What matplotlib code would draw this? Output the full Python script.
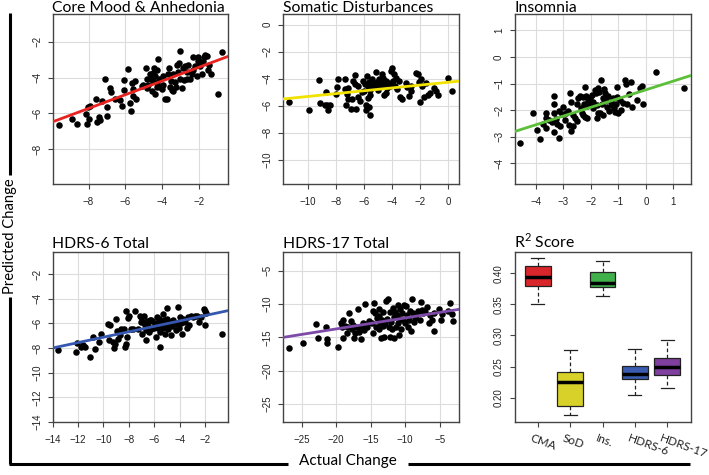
import numpy as np
import matplotlib
matplotlib.use('Agg')
import matplotlib.pyplot as plt
from matplotlib.lines import Line2D
from matplotlib.transforms import offset_copy, ScaledTranslation

plt.rcParams['font.family'] = ['Liberation Sans', 'DejaVu Sans']
plt.rcParams['axes.unicode_minus'] = True

# ---------------- data ----------------
cma_x = [-9.6, -8.9, -8.6, -8.13, -8.05, -7.9, -8.0, -8.1, -7.6, -7.45, -7.4, -7.55, -7.28, -7.1, -7.0, -7.0,
         -6.83, -6.77, -6.56, -6.29, -6.2, -6.1, -6.1, -5.84, -5.78, -5.71, -5.66, -5.57, -5.57, -5.48, -5.42,
         -5.12, -5.03, -4.89, -4.85, -4.76, -4.67, -4.63, -4.58, -4.52, -4.49, -4.43, -4.4, -4.4, -4.31, -4.27,
         -4.22, -4.16, -4.13, -4.04, -3.98, -3.95, -3.86, -3.77, -3.68, -3.62, -3.59, -3.55, -3.5, -3.41, -3.32,
         -3.26, -3.23, -3.14, -3.08, -3.05, -3.05, -2.95, -2.9, -2.83, -2.77, -2.68, -2.59, -2.5, -2.41, -2.32,
         -2.23, -2.14, -2.1, -2.05, -2.0, -1.96, -1.87, -1.78, -1.74, -1.69, -1.6, -1.51, -1.46, -1.39, -0.97,
         -0.79, -2.32, -2.65, -3.45, -4.31, -4.85]
cma_y = [-6.67, -6.3, -6.6, -6.05, -5.63, -5.6, -6.33, -6.57, -5.19, -6.19, -6.37, -6.48, -5.31, -4.11, -5.63,
         -6.15, -4.57, -4.81, -5.19, -5.26, -5.59, -4.15, -4.7, -3.52, -5.41, -5.87, -4.3, -4.63, -5.04, -4.2,
         -5.22, -4.48, -4.44, -3.46, -4.57, -4.39, -3.83, -4.11, -4.76, -3.74, -4.2, -3.46, -3.94, -4.94, -3.59,
         -4.3, -2.96, -4.07, -4.52, -4.63, -3.89, -4.39, -5.22, -5.22, -3.78, -3.46, -4.52, -4.2, -4.67, -3.83,
         -4.26, -4.52, -3.28, -3.7, -3.19, -4.11, -2.54, -4.57, -3.46, -4.15, -3.37, -3.7, -3.28, -4.11, -3.83,
         -3.56, -3.37, -3.89, -3.09, -2.85, -3.19, -3.37, -3.83, -3.09, -2.85, -2.72, -2.78, -3.56, -3.28, -3.83,
         -4.94, -2.57, -2.85, -4.11, -4.76, -4.52, -4.07]

sod_x = [-11.36, -9.93, -9.21, -9.12, -8.81, -8.69, -8.57, -8.45, -8.62, -8.02, -7.93, -7.86, -7.38, -7.38, -7.31,
         -7.21, -7.14, -7.14, -6.9, -6.83, -6.79, -6.67, -6.67, -6.6, -6.43, -6.43, -6.26, -6.12, -6.02, -5.95,
         -5.88, -5.83, -5.79, -5.74, -5.71, -5.64, -5.64, -5.6, -5.55, -5.55, -5.48, -5.4, -5.31, -5.24, -5.17,
         -5.12, -5.07, -5.0, -4.93, -4.83, -4.76, -4.69, -4.64, -4.6, -4.52, -4.45, -4.4, -4.36, -4.21, -4.17,
         -4.05, -3.98, -3.93, -3.88, -3.81, -3.69, -3.64, -3.5, -3.4, -3.26, -2.98, -2.9, -2.79, -2.62, -2.26,
         -2.14, -2.07, -2.02, -1.9, -1.83, -1.74, -1.55, -1.43, -1.31, -1.02, -0.88, -0.71, 0.0, 0.31, -2.62,
         -6.07, -4.69]
sod_y = [-5.72, -6.28, -4.11, -5.77, -5.92, -5.0, -6.33, -5.97, -5.92, -5.12, -4.64, -4.03, -3.99, -4.76, -5.92,
         -5.12, -4.71, -5.53, -6.21, -5.48, -4.15, -3.74, -4.4, -6.21, -4.57, -5.36, -5.68, -5.0, -4.88, -4.4,
         -5.92, -6.33, -3.79, -4.57, -5.43, -6.09, -4.23, -6.69, -4.81, -5.24, -4.47, -4.03, -4.64, -4.4, -3.5,
         -4.57, -4.23, -4.81, -4.03, -4.4, -4.08, -4.57, -3.91, -5.24, -4.4, -4.15, -5.05, -4.71, -4.32, -4.52,
         -3.43, -3.19, -4.15, -3.67, -4.57, -3.91, -4.76, -4.15, -5.36, -5.53, -4.28, -4.64, -5.29, -4.88, -3.55,
         -3.67, -4.23, -5.72, -4.03, -4.57, -5.36, -4.32, -5.24, -5.05, -4.71, -4.88, -5.24, -3.91, -4.9, -4.57,
         -4.15, -3.67]

ins_x = [-4.57, -4.09, -3.96, -3.87, -3.74, -3.65, -3.62, -3.65, -3.52, -3.43, -3.35, -3.35, -3.35, -3.35, -3.28,
         -3.23, -3.16, -3.16, -3.11, -3.07, -3.01, -2.95, -2.91, -2.83, -2.79, -2.77, -2.74, -2.71, -2.67, -2.65,
         -2.59, -2.52, -2.5, -2.46, -2.4, -2.38, -2.34, -2.3, -2.28, -2.26, -2.22, -2.22, -2.18, -2.16, -2.13,
         -2.1, -2.04, -2.01, -1.98, -1.94, -1.91, -1.85, -1.82, -1.79, -1.77, -1.73, -1.7, -1.67, -1.65, -1.61,
         -1.57, -1.55, -1.52, -1.49, -1.45, -1.43, -1.37, -1.33, -1.28, -1.24, -1.21, -1.16, -1.12, -1.09, -1.04,
         -1.04, -1.0, -0.96, -0.91, -0.82, -0.76, -0.72, -0.7, -0.6, -0.55, -0.51, -0.33, -0.23, -0.15, -0.11,
         0.38, 1.4, -1.73]
ins_y = [-3.23, -2.11, -2.74, -3.07, -2.52, -2.11, -2.28, -2.67, -2.36, -2.45, -1.46, -1.78, -2.11, -2.82, -2.33,
         -2.52, -3.05, -2.05, -2.61, -2.15, -1.87, -2.36, -2.11, -2.05, -2.55, -1.37, -2.8, -1.7, -2.2, -2.61,
         -2.3, -2.4, -1.78, -1.55, -1.46, -1.93, -2.11, -2.2, -1.49, -1.78, -1.12, -2.24, -1.46, -2.3, -1.83,
         -1.62, -1.53, -1.74, -1.43, -1.93, -1.7, -1.24, -1.37, -1.8, -2.3, -1.15, -1.33, -2.11, -0.87, -1.78,
         -1.55, -2.2, -1.21, -1.37, -1.62, -1.87, -1.46, -2.05, -1.68, -1.8, -1.53, -1.93, -2.08, -1.78, -1.49,
         -1.12, -2.11, -1.62, -1.99, -1.74, -0.87, -1.03, -1.78, -1.41, -0.93, -1.87, -1.62, -1.16, -1.08, -1.78,
         -0.58, -1.18, -2.11]

h6_x = [-13.53, -12.16, -12.11, -11.76, -11.58, -11.42, -11.05, -10.79, -10.63, -10.31, -10.18, -9.65, -9.47,
        -9.52, -9.26, -9.13, -9.05, -9.0, -8.94, -8.86, -8.73, -8.6, -8.41, -8.33, -8.25, -8.25, -8.15, -8.07,
        -7.99, -7.8, -7.67, -7.54, -7.28, -7.15, -7.01, -6.93, -6.88, -6.83, -6.75, -6.67, -6.62, -6.56, -6.49,
        -6.41, -6.3, -6.22, -6.14, -6.04, -5.96, -5.88, -5.83, -5.78, -5.69, -5.61, -5.56, -5.51, -5.43, -5.35,
        -5.3, -5.25, -5.17, -5.09, -5.03, -4.98, -4.9, -4.77, -4.72, -4.64, -4.51, -4.37, -4.3, -4.19, -4.11,
        -4.03, -3.98, -3.93, -3.85, -3.72, -3.58, -3.45, -3.32, -3.24, -3.13, -2.98, -2.79, -2.61, -2.45, -2.34,
        -2.08, -2.0, -2.0, -1.92, -0.68, -7.01, -6.22]
h6_y = [-8.18, -8.31, -7.58, -7.9, -7.77, -7.9, -8.72, -7.14, -8.04, -7.5, -6.82, -6.05, -6.14, -7.36, -7.5,
        -7.96, -7.69, -5.67, -6.6, -7.23, -6.95, -6.49, -6.41, -7.9, -4.97, -7.69, -7.09, -5.59, -5.4, -6.41,
        -6.49, -4.97, -6.41, -5.4, -5.51, -6.87, -5.86, -5.4, -6.14, -7.36, -6.54, -5.78, -6.22, -6.68, -5.73,
        -6.49, -5.78, -6.33, -6.14, -5.95, -7.14, -5.51, -6.33, -5.67, -7.9, -6.68, -5.95, -5.24, -6.33, -5.73,
        -6.87, -6.14, -4.78, -5.67, -6.49, -5.86, -6.95, -6.22, -5.73, -6.05, -6.54, -5.95, -4.69, -6.33, -5.46,
        -6.0, -6.87, -5.67, -5.86, -6.33, -5.51, -6.14, -5.4, -5.51, -5.4, -5.4, -5.86, -5.51, -4.86, -4.97,
        -6.14, -5.13, -6.82, -5.86, -5.73]

h17_x = [-26.79, -24.85, -22.92, -22.58, -21.46, -21.37, -21.27, -19.67, -19.33, -19.19, -19.04, -18.95, -18.7,
         -18.37, -18.22, -18.07, -17.88, -17.74, -17.59, -17.4, -17.25, -17.01, -16.77, -16.62, -16.43, -16.28,
         -16.14, -15.94, -15.8, -15.56, -15.46, -15.17, -14.83, -14.69, -14.59, -14.49, -14.35, -14.2, -14.1,
         -13.86, -13.72, -13.62, -13.52, -13.38, -13.23, -13.14, -13.04, -12.89, -12.75, -12.65, -12.55, -12.41,
         -12.26, -12.17, -12.07, -11.92, -11.78, -11.68, -11.59, -11.44, -11.3, -11.2, -11.1, -10.96, -10.81,
         -10.71, -10.62, -10.47, -10.33, -10.23, -9.99, -9.84, -9.75, -9.65, -9.5, -9.36, -9.16, -9.02, -8.87,
         -8.68, -8.54, -8.39, -8.2, -7.91, -7.71, -7.57, -7.42, -7.08, -6.84, -6.6, -6.45, -6.11, -5.87, -5.77,
         -5.15, -4.81, -4.66, -3.84, -3.45, -3.21, -3.06, -13.86, -11.1]
h17_y = [-16.63, -15.89, -13.07, -15.15, -13.51, -15.3, -15.79, -16.49, -12.82, -13.51, -15.15, -12.43, -13.32,
         -14.31, -13.51, -11.34, -12.52, -13.81, -13.17, -15.15, -14.41, -13.51, -10.69, -14.16, -15.3, -13.51,
         -12.82, -13.91, -10.05, -13.02, -13.51, -12.52, -12.92, -11.04, -14.31, -9.85, -11.34, -13.51, -12.03,
         -13.81, -11.83, -12.82, -15.15, -12.33, -13.32, -11.19, -14.9, -12.92, -9.55, -12.18, -9.21, -13.51,
         -11.19, -14.9, -12.67, -13.81, -10.54, -11.98, -15.15, -11.19, -13.42, -11.68, -12.92, -14.65, -10.69,
         -12.18, -13.81, -11.34, -12.43, -10.2, -12.82, -10.35, -11.68, -13.51, -12.33, -11.04, -14.0, -9.21,
         -11.34, -12.67, -12.03, -11.68, -11.04, -12.43, -9.7, -10.84, -11.34, -11.19, -10.45, -12.82, -11.68,
         -12.43, -14.0, -11.34, -10.69, -12.43, -11.53, -11.04, -9.85, -11.53, -12.52, -10.69, -10.2]

# fitted lines (slope, intercept)
fit_slope = [0.385, 0.105, 0.329, 0.22, 0.165]
fit_icpt = [-2.647, -4.26, -1.233, -4.916, -10.44]

titles = ['Core Mood & Anhedonia', 'Somatic Disturbances', 'Insomnia', 'HDRS-6 Total', 'HDRS-17 Total']
line_colors = ['#e8221f', '#f2e200', '#5cbf3a', '#3557b0', '#7d4aa8']

# R^2 boxplot summary
box_labels = ['CMA', 'SoD', 'Ins.', 'HDRS-6', 'HDRS-17']
box_low = [0.351, 0.172, 0.364, 0.204, 0.216]
box_q1 = [0.379, 0.186, 0.377, 0.230, 0.236]
box_med = [0.394, 0.226, 0.385, 0.238, 0.249]
box_q3 = [0.412, 0.242, 0.402, 0.251, 0.264]
box_high = [0.425, 0.277, 0.419, 0.278, 0.293]
box_colors = ['#d9262a', '#d8d12a', '#3fb04a', '#3a5cb0', '#7e3f9e']

# ---------------- layout ----------------
fig = plt.figure(figsize=(7.09, 4.75), dpi=100)
W, H = 709.0, 475.0
LABEL_FONT = 'Lato'

def px_axes(x0, y0, x1, y1):
    return fig.add_axes([x0 / W, 1 - y1 / H, (x1 - x0) / W, (y1 - y0) / H])

cols = [(52.5, 228), (283, 459), (514.5, 690.5)]
rows = [(14, 184), (252, 422)]

xs_all = [cma_x, sod_x, ins_x, h6_x, h17_x]
ys_all = [cma_y, sod_y, ins_y, h6_y, h17_y]
lims = [(-9.95, -0.45), (-11.8, 0.8), (-4.78, 1.62), (-14.0, -0.2), (-27.7, -2.2)]
ticks = [np.arange(-8, -1, 2), np.arange(-10, 1, 2), np.arange(-4, 2, 1),
         np.arange(-14, -1, 2), np.arange(-25, -4, 5)]

def style_axes(ax):
    for s in ax.spines.values():
        s.set_color('#444444')
        s.set_linewidth(1.0)
    ax.tick_params(direction='out', length=3.5, width=0.8, color='#444444',
                   labelsize=7, labelcolor='#222222')
    ax.tick_params(axis='x', pad=6)
    ax.tick_params(axis='y', pad=4, labelrotation=90)
    plt.setp(ax.get_yticklabels(), va='center')

def add_title(ax, text, rise):
    tr = offset_copy(ax.transAxes, fig=fig, x=0, y=rise, units='dots')
    ax.text(0.0, 1.0, text, transform=tr, ha='left', va='baseline',
            fontsize=11.3, family=LABEL_FONT)

for i in range(5):
    r, c = divmod(i, 3)
    ax = px_axes(cols[c][0], rows[r][0], cols[c][1], rows[r][1])
    ax.set_xlim(lims[i])
    ax.set_ylim(lims[i])
    ax.set_xticks(ticks[i])
    ax.set_yticks(ticks[i])
    ax.grid(True, color='#dcdcdc', linewidth=0.8)
    ax.set_axisbelow(True)
    ax.scatter(xs_all[i], ys_all[i], s=22, color='black', zorder=3, linewidths=0)
    lx = np.array(lims[i])
    ax.plot(lx, fit_icpt[i] + fit_slope[i] * lx, color=line_colors[i], lw=2.0, zorder=4)
    style_axes(ax)
    add_title(ax, titles[i], 1.5 if r == 0 else 4)

# boxplot panel
ax = px_axes(cols[2][0], rows[1][0], cols[2][1], rows[1][1])
stats = []
for k in range(len(box_labels)):
    stats.append({'whislo': box_low[k], 'q1': box_q1[k], 'med': box_med[k],
                  'q3': box_q3[k], 'whishi': box_high[k], 'fliers': []})
bp = ax.bxp(stats, positions=np.arange(1, 6), widths=0.8, patch_artist=True,
            showfliers=False,
            boxprops=dict(edgecolor='#222222', linewidth=0.9),
            medianprops=dict(color='black', linewidth=2.5),
            whiskerprops=dict(color='#222222', linestyle=(0, (3, 2)), linewidth=0.9),
            capprops=dict(color='#222222', linewidth=0.9), capwidths=0.4)
for patch, col in zip(bp['boxes'], box_colors):
    patch.set_facecolor(col)
ax.set_xlim(0.29, 5.71)
ax.set_ylim(0.161, 0.434)
ax.set_yticks([0.20, 0.25, 0.30, 0.35, 0.40])
ax.set_yticklabels(['0.20', '0.25', '0.30', '0.35', '0.40'])
ax.set_xticks(np.arange(1, 6))
style_axes(ax)
ax.set_xticklabels(box_labels, rotation=-20, ha='left', rotation_mode='anchor',
                   fontsize=8.5, family=LABEL_FONT)
ax.tick_params(axis='x', pad=4)
shift = ScaledTranslation(-5 / 100.0, 0, fig.dpi_scale_trans)
for lab in ax.get_xticklabels():
    lab.set_transform(lab.get_transform() + shift)
add_title(ax, r'R$^{\mathregular{2}}$ Score', 4)

# outer axis lines with labels
lw_frame = 2.2
def fline(x0, y0, x1, y1):
    fig.add_artist(Line2D([x0 / W, x1 / W], [1 - y0 / H, 1 - y1 / H], color='black',
                          lw=lw_frame, solid_capstyle='butt'))

fline(10, 13, 10, 175)
fline(10, 297, 10, 464.3)
fline(9, 463.5, 288, 463.5)
fline(408, 463.5, 690, 463.5)
fig.text(10 / W, 1 - 236 / H, 'Predicted Change', rotation=90, ha='center', va='center',
         fontsize=10.6, family=LABEL_FONT)
fig.text(348 / W, 1 - 461 / H, 'Actual Change', ha='center', va='center',
         fontsize=11, family=LABEL_FONT)

fig.savefig('out.png', dpi=100)
